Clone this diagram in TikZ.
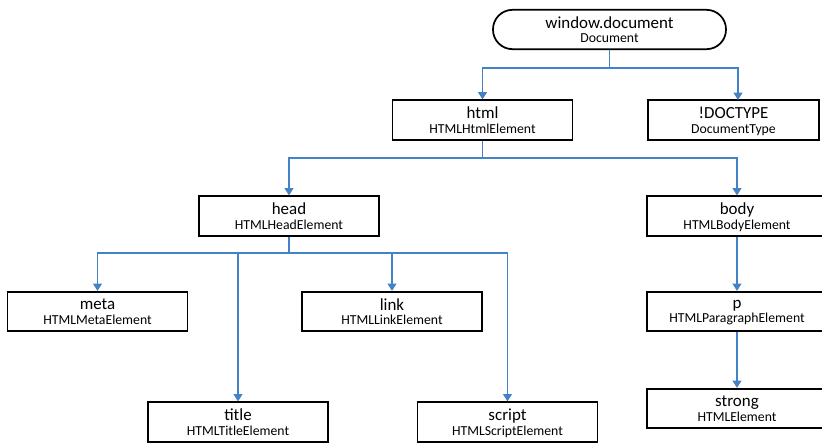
\documentclass[tikz,border=0pt]{standalone}
\usepackage{fontspec}
\setmainfont{Carlito}
\usetikzlibrary{arrows.meta,calc}
\definecolor{linkblue}{HTML}{4482C8}
\newcommand{\tn}[2]{{\fontsize{12.7}{14}\selectfont #1}\\[-1pt]{\fontsize{10.3}{12}\selectfont #2}}
\tikzset{
  elem/.style={draw=black, line width=1.3pt, fill=white, minimum width=135pt, minimum height=29.5pt,
    align=center, inner sep=0pt, text depth=0pt},
  conn/.style={draw=linkblue, line width=1.4pt, -{Triangle[width=6.5pt,length=5.5pt]}},
  plain/.style={draw=linkblue, line width=1.4pt}
}
\begin{document}
\begin{tikzpicture}[x=0.75pt,y=-0.75pt]
\useasboundingbox (0,0) rectangle (822,443);
\begin{scope}
\clip (0,0) rectangle (822,443);
\node[elem, rounded corners=14.6pt, minimum width=174.75pt] (doc) at (609.5,29.5) {\tn{window.document}{Document}};
\node[elem] (html) at (482.5,120) {\tn{html}{HTMLHtmlElement}};
\node[elem, minimum width=128.25pt] (dt) at (733.5,120) {\tn{!DOCTYPE}{DocumentType}};
\node[elem] (head) at (289,216) {\tn{head}{HTMLHeadElement}};
\node[elem] (body) at (737,216) {\tn{body}{HTMLBodyElement}};
\node[elem] (meta) at (97.5,311.5) {\tn{meta}{HTMLMetaElement}};
\node[elem] (link) at (392,311.5) {\tn{link}{HTMLLinkElement}};
\node[elem] (title) at (238,422) {\tn{title}{HTMLTitleElement}};
\node[elem] (script) at (507.5,422) {\tn{script}{HTMLScriptElement}};
\node[elem] (p) at (737,311.5) {\tn{p}{HTMLParagraphElement}};
\node[elem] (strong) at (737,408.5) {\tn{strong}{HTMLElement}};
\coordinate (j1) at (609.5,68);
\coordinate (j2) at (482.5,158);
\coordinate (j3) at (289,253);
\coordinate (dtin) at (738,100);
\draw[plain] (doc.south) -- (j1);
\draw[conn] (j1) -| (html.north);
\draw[conn] (j1) -| (dtin);
\draw[plain] (html.south) -- (j2);
\draw[conn] (j2) -| (head.north);
\draw[conn] (j2) -| (body.north);
\draw[plain] (head.south) -- (j3);
\draw[conn] (j3) -| (meta.north);
\draw[conn] (j3) -| (title.north);
\draw[conn] (j3) -| (link.north);
\draw[conn] (j3) -| (script.north);
\draw[conn] (body.south) -- (p.north);
\draw[conn] (p.south) -- (strong.north);
\end{scope}
\end{tikzpicture}
\end{document}
